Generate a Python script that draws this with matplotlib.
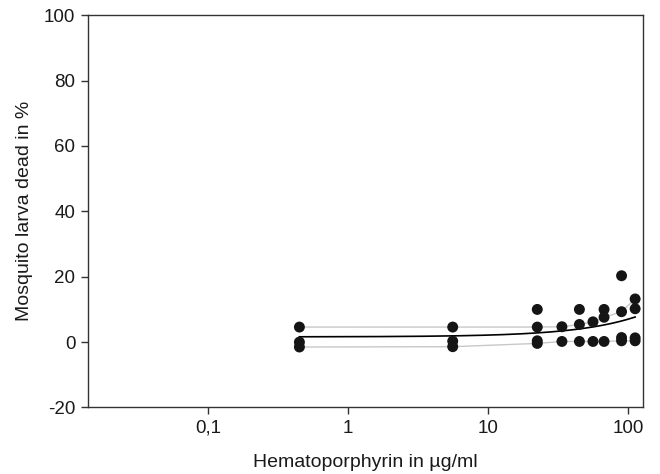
import numpy as np
import matplotlib.pyplot as plt
from matplotlib.ticker import FixedLocator, FixedFormatter, NullLocator

plt.rcParams['font.family'] = ['Liberation Sans', 'DejaVu Sans']
plt.rcParams['axes.unicode_minus'] = False

# concentrations (ug/ml) used in the test
doses = [0.45, 5.6, 22.5, 33.75, 45, 56.25, 67.5, 90, 112.5]

# two replicate series drawn with grey connecting lines (% dead)
rep_a = [4.6, 4.6, 4.6, 4.7, 5.4, 6.2, 7.6, 9.3, 13.2]
rep_b = [-1.5, -1.4, -0.4, 0.2, 0.2, 0.2, 0.2, 0.4, 0.4]

# remaining single observations
extra_conc = [0.45, 5.6, 22.5, 22.5, 45, 67.5, 90, 90, 112.5, 112.5]
extra_dead = [0.0, 0.3, 10.0, 0.4, 10.0, 10.0, 20.3, 1.4, 10.2, 1.3]

tick_vals = [0.1, 1, 10, 100]
tick_labels = ['0,1', '1', '10', '100']

x = np.array(doses * 2 + extra_conc)
y = np.array(rep_a + rep_b + extra_dead)

# linear regression over all observations
b, a = np.polyfit(x, y, 1)
xf = np.logspace(np.log10(min(doses)), np.log10(max(doses)), 200)
yf = a + b * xf

fig = plt.figure(figsize=(6.6, 4.74), dpi=100)
ax = fig.add_axes([0.1333, 0.1403, 0.8409, 0.8277])

ax.plot(doses, rep_a, color='#c8c8c8', lw=1.0, zorder=1)
ax.plot(doses, rep_b, color='#c8c8c8', lw=1.0, zorder=1)
ax.plot(xf, yf, color='black', lw=1.2, zorder=2)
ax.scatter(x, y, s=62, color='#151515', edgecolors='none', zorder=3)

ax.set_xscale('log')
ax.set_xlim(0.0139, 128)
ax.set_ylim(-20, 100)
ax.xaxis.set_major_locator(FixedLocator(tick_vals))
ax.xaxis.set_major_formatter(FixedFormatter(tick_labels))
ax.xaxis.set_minor_locator(NullLocator())
ax.set_yticks([-20, 0, 20, 40, 60, 80, 100])

for sp in ax.spines.values():
    sp.set_color('#333333')
    sp.set_linewidth(1.0)
ax.tick_params(axis='both', direction='out', length=5, width=1, color='#333333',
               labelsize=13.5, labelcolor='#1a1a1a', pad=4)

ax.set_xlabel('Hematoporphyrin in µg/ml', fontsize=14, color='#1a1a1a', labelpad=12)
ax.set_ylabel('Mosquito larva dead in %', fontsize=14, color='#1a1a1a', labelpad=8)

fig.savefig('out.png', dpi=100)
